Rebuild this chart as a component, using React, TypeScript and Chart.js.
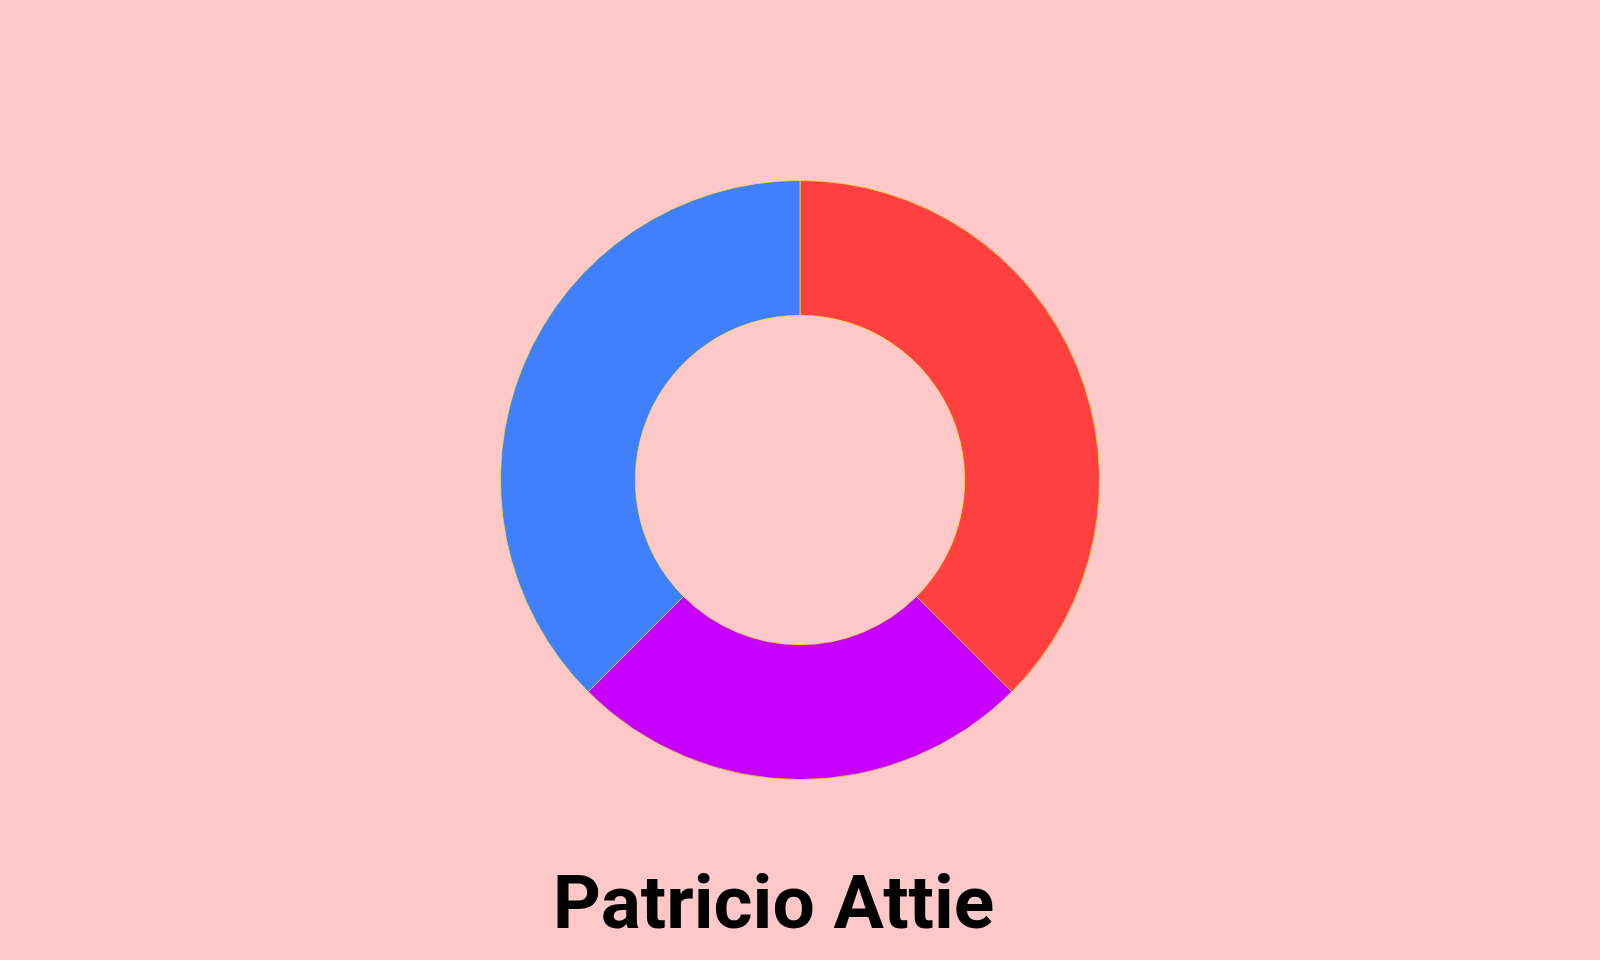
import React, { useEffect, useRef } from "react";
import { Chart, registerables } from "chart.js";

Chart.register(...registerables);

const labels = ["Rojo", "Violeta", "Azul"];
const values = [37.5, 25, 37.5];
const colors = ["#FF4040", "#C800FF", "#4080FF"];
const titleText = "Patricio Attie";

export default function App() {
  const ref = useRef<HTMLCanvasElement | null>(null);

  useEffect(() => {
    document.body.style.margin = "0";
    document.body.style.background = "#FFC8C8";
    const canvas = ref.current;
    if (!canvas) return;
    const chart = new Chart(canvas, {
      type: "doughnut",
      data: {
        labels,
        datasets: [
          {
            data: values,
            backgroundColor: colors,
            borderColor: "rgba(230,230,40,0.7)",
            borderWidth: 1,
          },
        ],
      },
      options: {
        animation: false,
        responsive: false,
        maintainAspectRatio: false,
        cutout: "55%",
        layout: { padding: { top: 180, bottom: 180, left: 0, right: 0 } },
        plugins: {
          legend: { display: false },
          tooltip: { enabled: false },
          title: { display: false },
        },
      },
    });
    return () => chart.destroy();
  }, []);

  return (
    <div style={{ position: "relative", width: 1600, height: 960, background: "#FFC8C8" }}>
      <canvas ref={ref} width={1600} height={960} style={{ display: "block" }} />
      <div
        style={{
          position: "absolute",
          left: 0,
          top: 857,
          width: 1600,
          boxSizing: "border-box",
          paddingRight: 53,
          textAlign: "center",
          fontFamily: "Roboto",
          fontWeight: 700,
          fontSize: 75,
          lineHeight: "90px",
          color: "#000000",
          whiteSpace: "nowrap",
        }}
      >
        {titleText}
      </div>
    </div>
  );
}
